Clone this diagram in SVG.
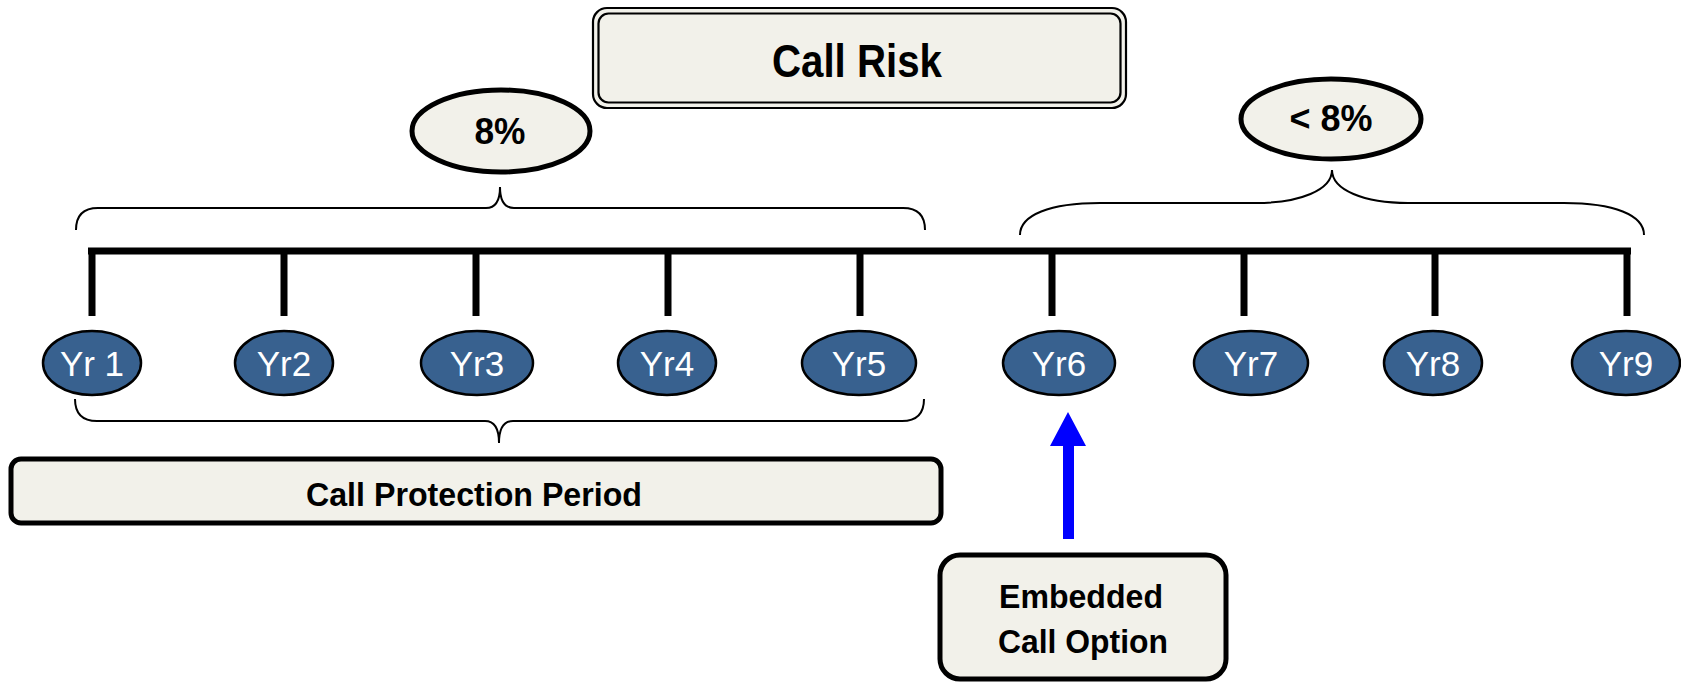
<svg xmlns="http://www.w3.org/2000/svg" width="1681" height="682" viewBox="0 0 1681 682">
<style>
.box{fill:#F2F1EA;stroke:#000;stroke-width:5}
.frame{fill:#F2F1EA;stroke:#000;stroke-width:2.2}
.lbl{font-family:"Liberation Sans",Arial,sans-serif;font-weight:bold;fill:#000;text-anchor:middle}
.yr{fill:#38618F;stroke:#000;stroke-width:2.5}
.yt{font-family:"Liberation Sans",Arial,sans-serif;fill:#fff;text-anchor:middle;font-size:35px}
.bar{stroke:#000;stroke-width:7;fill:none}
.brace{stroke:#000;stroke-width:2;fill:none}
.arrow{fill:#0000FF;stroke:none}
</style>
<rect width="1681" height="682" fill="#fff"/>

<g id="connectors">
  <path class="bar" d="M88 251 H1631"/>
  <path class="bar" d="M92 248 V316 M284 251 V316 M476 251 V316 M668 251 V316 M860 251 V316 M1052 251 V316 M1244 251 V316 M1435 251 V316 M1627 248 V316"/>
  <path class="brace" d="M76 230 Q76 208 98 208 L486 208 Q500 208 500 187 Q500 208 514 208 L903 208 Q925 208 925 230"/>
  <path class="brace" d="M1020 235 C1020 215 1050 203 1100 203 L1256 203 C1300 203 1332 190 1332 170 C1332 190 1364 203 1408 203 L1564 203 C1614 203 1644 215 1644 235"/>
  <path class="brace" d="M75 399 Q75 421 97 421 L485 421 Q499 421 499 443 Q499 421 513 421 L902 421 Q924 421 924 399"/>
  <path class="arrow" d="M1063 539 V446 H1050 L1068 412 L1086 446 H1074 V539 Z"/>
</g>

<g id="call-risk">
  <rect class="frame" x="593" y="8" width="533" height="100" rx="14"/>
  <rect class="frame" x="598.5" y="13.5" width="522" height="89" rx="10"/>
  <text class="lbl" x="857" y="77" font-size="47" textLength="170" lengthAdjust="spacingAndGlyphs">Call Risk</text>
</g>

<g id="rate-8">
  <ellipse class="box" cx="501" cy="131" rx="89" ry="41"/>
  <text class="lbl" x="500" y="144" font-size="36" textLength="51" lengthAdjust="spacingAndGlyphs">8%</text>
</g>

<g id="rate-lt8">
  <ellipse class="box" cx="1331" cy="119" rx="90" ry="40"/>
  <text class="lbl" x="1331" y="131" font-size="36" textLength="83" lengthAdjust="spacingAndGlyphs">&lt; 8%</text>
</g>

<g id="yr1"><ellipse class="yr" cx="92" cy="363" rx="49" ry="32"/><text class="yt" x="92" y="376">Yr 1</text></g>
<g id="yr2"><ellipse class="yr" cx="284" cy="363" rx="49" ry="32"/><text class="yt" x="284" y="376">Yr2</text></g>
<g id="yr3"><ellipse class="yr" cx="477" cy="363" rx="56" ry="32"/><text class="yt" x="477" y="376">Yr3</text></g>
<g id="yr4"><ellipse class="yr" cx="667" cy="363" rx="49" ry="32"/><text class="yt" x="667" y="376">Yr4</text></g>
<g id="yr5"><ellipse class="yr" cx="859" cy="363" rx="57" ry="32"/><text class="yt" x="859" y="376">Yr5</text></g>
<g id="yr6"><ellipse class="yr" cx="1059" cy="363" rx="56" ry="32"/><text class="yt" x="1059" y="376">Yr6</text></g>
<g id="yr7"><ellipse class="yr" cx="1251" cy="363" rx="57" ry="32"/><text class="yt" x="1251" y="376">Yr7</text></g>
<g id="yr8"><ellipse class="yr" cx="1433" cy="363" rx="49" ry="32"/><text class="yt" x="1433" y="376">Yr8</text></g>
<g id="yr9"><ellipse class="yr" cx="1626" cy="363" rx="54" ry="32"/><text class="yt" x="1626" y="376">Yr9</text></g>

<g id="call-protection">
  <rect class="box" x="11" y="459" width="930" height="64" rx="10"/>
  <text class="lbl" x="474" y="506" font-size="33" textLength="336" lengthAdjust="spacingAndGlyphs">Call Protection Period</text>
</g>

<g id="embedded-call">
  <rect class="box" x="940" y="555" width="286" height="124" rx="20"/>
  <text class="lbl" x="1081" y="608" font-size="33" textLength="164" lengthAdjust="spacingAndGlyphs">Embedded</text>
  <text class="lbl" x="1083" y="653" font-size="33" textLength="170" lengthAdjust="spacingAndGlyphs">Call Option</text>
</g>
</svg>
